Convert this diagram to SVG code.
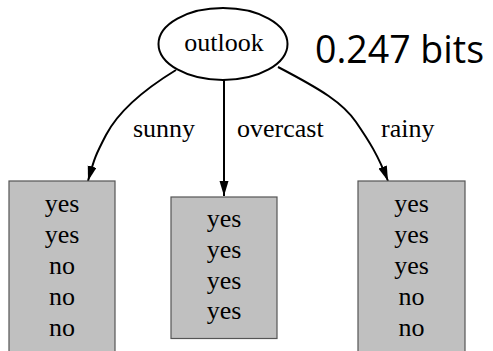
<svg xmlns="http://www.w3.org/2000/svg" width="493" height="351" viewBox="0 0 493 351">
<style>
.c{text-anchor:middle}
.box{fill:#c0c0c0;stroke:#555;stroke-width:1.2}
.edge{fill:none;stroke:#000;stroke-width:2}
</style>
<defs>
<marker id="ah" markerUnits="userSpaceOnUse" markerWidth="16" markerHeight="10" refX="15" refY="4.5" orient="auto">
<path d="M0,0 L15,4.5 L0,9 z" fill="#000"/>
</marker>
</defs>
<rect width="493" height="351" fill="#fff"/>
<g id="edges">
<path class="edge" d="M176,70 C140,92 118,112 106,135 S94,160 88,181" marker-end="url(#ah)"/>
<path class="edge" d="M224,80 L224,196" marker-end="url(#ah)"/>
<path class="edge" d="M278,67 C322,90 343,103 356,122 S378,155 388,181" marker-end="url(#ah)"/>
</g>
<g font-family="Liberation Serif, DejaVu Serif, serif" font-size="26" fill="#000">
<g id="outlook">
<ellipse cx="223" cy="44" rx="64.5" ry="36" fill="#fff" stroke="#000" stroke-width="2"/>
<text class="c" x="224" y="51">outlook</text>
</g>
<g id="labels">
<text x="133" y="137">sunny</text>
<text x="237" y="137">overcast</text>
<text x="381" y="137">rainy</text>
</g>
<g id="sunny-leaf">
<rect class="box" x="9" y="181" width="106" height="180"/>
<text class="c" x="62" y="211.5">yes</text>
<text class="c" x="62" y="242.5">yes</text>
<text class="c" x="62" y="273.5">no</text>
<text class="c" x="62" y="304.5">no</text>
<text class="c" x="62" y="335.5">no</text>
</g>
<g id="overcast-leaf">
<rect class="box" x="171" y="197" width="106" height="141.5"/>
<text class="c" x="224" y="227">yes</text>
<text class="c" x="224" y="258">yes</text>
<text class="c" x="224" y="288.5">yes</text>
<text class="c" x="224" y="319">yes</text>
</g>
<g id="rainy-leaf">
<rect class="box" x="358" y="181" width="107" height="180"/>
<text class="c" x="411.5" y="211.5">yes</text>
<text class="c" x="411.5" y="242.5">yes</text>
<text class="c" x="411.5" y="273.5">yes</text>
<text class="c" x="411.5" y="304.5">no</text>
<text class="c" x="411.5" y="335.5">no</text>
</g>
</g>
<g id="bits">
<text x="315" y="63" font-family="Open Sans, Noto Sans, sans-serif" font-size="37.5">0.247 bits</text>
</g>
</svg>
